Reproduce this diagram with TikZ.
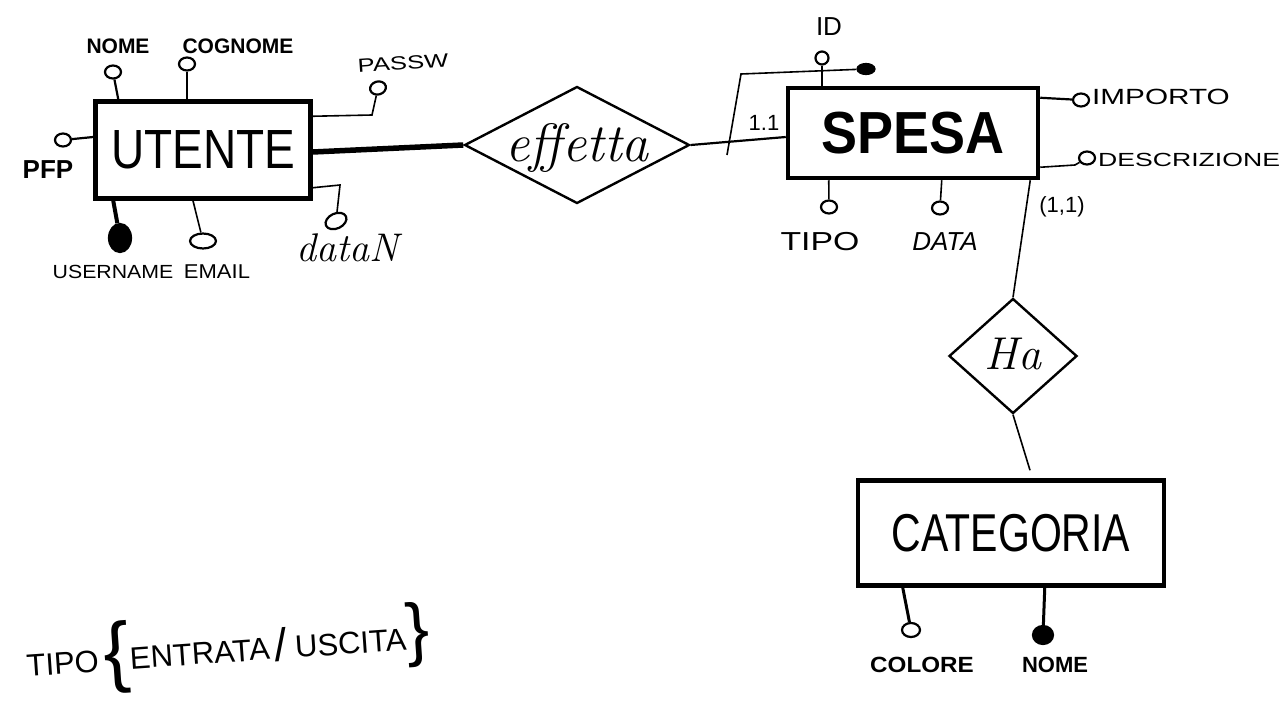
\documentclass[tikz,border=0pt]{standalone}
\usepackage{fontspec}
\usepackage{graphicx}
\newfontfamily\hand{Liberation Sans}
\usetikzlibrary{shapes.geometric,calc}
\newcommand\ctext[2]{\smash{\makebox[0pt]{#1\raisebox{-0.3em}{#2}}}}
\newcommand\fs[1]{\fontsize{#1}{#1}\selectfont}
\begin{document}
\begin{tikzpicture}[x=1pt,y=-1pt,
  ent/.style={draw, rectangle, line width=4.5pt, inner sep=0pt, font=\hand},
  rel/.style={draw, diamond, line width=2.4pt, inner sep=0pt},
  att/.style={draw, ellipse, line width=2.2pt, minimum width=16pt, minimum height=13pt, inner sep=0pt},
  key/.style={att, fill=black},
  lnk/.style={line width=2.2pt},
  thinlnk/.style={line width=1.6pt},
  lab/.style={inner sep=0pt, font=\hand\fs{20}},
  blab/.style={inner sep=0pt, font=\hand\bfseries\fs{21}},
  slab/.style={inner sep=0pt, font=\itshape}]
\fill[white] (0,0) rectangle (1280,720);
\useasboundingbox (0,0) rectangle (1280,720);

% ---------- UTENTE ----------
\node[ent, minimum width=215pt, minimum height=97pt] (utente) at (203,150) {\fs{46}\scalebox{1}[1.2]{UTENTE}};
\node[att] (nome) at (113,72) {};
\draw[lnk] (nome) -- ($(utente.north west)+(25,0)$);
\node[blab] (nomeL) at (118,46) {NOME};
\node[att] (cognome) at (187,64) {};
\draw[lnk] (cognome) -- (cognome |- utente.north);
\node[blab] (cognomeL) at (238,46) {COGNOME};
\node[att, rotate=15] (passw) at (378,88) {};
\coordinate (pwb) at (372,115);
\draw[thinlnk] ($(utente.north east)+(0,17)$) -- (pwb) -- (passw);
\node[lab, font=\hand\fs{19}, rotate=4] (passwL) at (403,63) {\scalebox{1.35}[1]{PASSW}};
\node[att] (pfp) at (63,140) {};
\draw[lnk] (pfp) -- ($(utente.west)+(0,-13)$);
\node[blab, font=\hand\bfseries\fs{26}] (pfpL) at (48,170) {PFP};
\node[key, minimum width=22pt, minimum height=28pt] (username) at (120,238) {};
\draw[line width=4pt] (username) -- ($(utente.south west)+(20,0)$);
\node[lab, font=\hand\fs{19}] (usernameL) at (113,272) {\scalebox{1.12}[1]{USERNAME}};
\node[att, minimum width=26pt, minimum height=15pt] (email) at (203,241) {};
\draw[thinlnk] ($(utente.south)+(-10,0)$) -- (email);
\node[lab, font=\hand\fs{20}] (emailL) at (217,272) {\scalebox{1.1}[1]{EMAIL}};
\node[att, rotate=25, minimum width=22pt, minimum height=15pt] (datan) at (336,221) {};
\coordinate (dnb) at (340,185);
\draw[thinlnk] ($(utente.south east)+(0,-13)$) -- (dnb) -- (datan);
\node[slab, font=\itshape\fs{40}] (datanL) at (348,248) {dataN};

% ---------- effetta ----------
\node[rel, minimum width=225pt, minimum height=117pt] (effetta) at (577,145) {\ctext{\itshape\fs{54}}{effetta}};
\draw[line width=5.5pt] ($(utente.east)+(0,2)$) -- (effetta.west);

% ---------- SPESA ----------
\node[ent, minimum width=250pt, minimum height=90pt] (spesa) at (913,133) {\bfseries\fs{54}\scalebox{1}[1.1]{SPESA}};
\draw[lnk] (effetta.east) -- ($(spesa.west)+(0,4)$);
\node[lab, font=\hand\fs{22}] (unoL) at (764,123) {1.1};
\node[att, minimum width=13pt, minimum height=13pt] (id) at (822,58) {};
\draw[thinlnk] (id) -- (id |- spesa.north);
\node[lab, font=\hand\fs{26}] (idL) at (829,27) {ID};
\coordinate (c1) at (727,155);
\coordinate (c2) at (741,74);
\node[key, minimum width=17pt, minimum height=10pt] (idk) at (866,69) {};
\draw[thinlnk] (c1) -- (c2) -- (idk);
\node[att] (importo) at (1081,100) {};
\draw[lnk] ($(spesa.north east)+(0,12)$) -- (importo);
\node[lab, anchor=west, font=\hand\fs{22}] (importoL) at (1092,97) {\scalebox{1.35}[1]{IMPORTO}};
\node[att] (descr) at (1087,158) {};
\coordinate (dsb) at (1075,165);
\draw[thinlnk] ($(spesa.south east)+(0,-13)$) -- (dsb) -- (descr);
\node[lab, anchor=west, font=\hand\fs{19}] (descrL) at (1098,160) {\scalebox{1.4}[1]{DESCRIZIONE}};
\node[att] (tipo) at (829,207) {};
\draw[thinlnk] ($(spesa.south west)+(43,0)$) -- (tipo);
\node[lab, font=\hand\fs{26}] (tipoL) at (820,242) {\scalebox{1.3}[1]{TIPO}};
\node[att] (data) at (940,208) {};
\draw[thinlnk] ($(spesa.south west)+(156,0)$) -- (data);
\node[lab, font=\hand\itshape\fs{26}] (dataL) at (945,242) {DATA};
\node[lab, font=\hand\fs{22}] (card) at (1062,207) {(1,1)};

% ---------- Ha ----------
\node[rel, minimum width=128pt, minimum height=115pt] (ha) at (1013,356) {\ctext{\itshape\fs{46}}{Ha}};
\draw[thinlnk] ($(spesa.south east)+(-10,0)$) -- (ha.north);

% ---------- CATEGORIA ----------
\node[ent, minimum width=306pt, minimum height=105pt] (cat) at (1011,533) {\fs{41}\scalebox{1}[1.3]{CATEGORIA}};
\draw[thinlnk] (ha.south) -- ($(cat.north)+(19,-8)$);
\node[att, minimum width=18pt, minimum height=14pt] (colore) at (911,630) {};
\draw[line width=3pt] ($(cat.south west)+(47,0)$) -- (colore);
\node[blab, font=\hand\bfseries\fs{22}] (coloreL) at (922,665) {\scalebox{1.1}[1]{COLORE}};
\node[key, minimum width=20pt, minimum height=18pt] (nome2) at (1043,635) {};
\draw[line width=3pt] ($(cat.south west)+(189,0)$) -- (nome2);
\node[blab, font=\hand\bfseries\fs{22}] (nome2L) at (1055,665) {NOME};

% ---------- note ----------
\node[inner sep=0pt, rotate=4, font=\hand\fs{31}] (note) at (228,650)
  {TIPO\,\raisebox{-0.25em}{\fs{78}\{}ENTRATA\,\fs{46}\raisebox{-0.05em}{/}\,\fs{31}USCITA\raisebox{-0.1em}{\fs{70}\}}};
\end{tikzpicture}
\end{document}
